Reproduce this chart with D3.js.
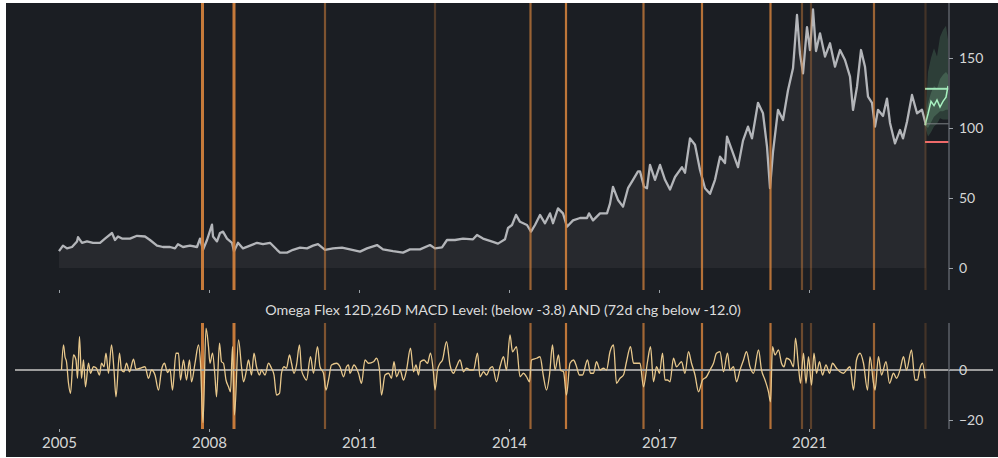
<!DOCTYPE html>
<html lang="en">
<head>
<meta charset="utf-8">
<title>Omega Flex MACD</title>
<script src="https://cdn.jsdelivr.net/npm/d3@7"></script>
<style>
  body { margin: 0; background: #fff; }
  text { font-family: Lato, "Noto Sans", sans-serif; }
</style>
</head>
<body>
<script>
const W = 998, H = 458

// weekly index (0 = start of 2005) and price
const price = [
  [0,12],[0.8,16],[1.6,14],[2.6,15],[3.6,19],[3.8,22],[4.6,18],[5.6,19],[6.8,18],[8.2,18],
  [9.2,21],[10.6,25],[11.2,20],[11.8,22.5],[12.6,21],[14.2,21],[15.6,23],[17.2,22.5],[18.2,20],[19.6,16],
  [20.8,15],[22.2,15],[23.2,14],[23.8,17],[24.8,15],[26.2,16],[27.6,15],[28.2,21],[28.8,13],[29.6,20],
  [30.6,31],[30.8,22.5],[31.6,19],[32.2,25],[32.8,26],[33.6,21],[34.6,18],[35,12],[35.8,18],[36.8,14],
  [38.2,16],[39.6,18],[40.8,17],[42.2,18],[43.6,13],[44.2,11],[45.6,11],[46.8,13],[48.2,14.5],[49.6,14],
  [50.8,16],[51.8,17],[53.2,13],[54.8,14],[56.6,14.5],[58.2,13.3],[60.2,11.7],[61.6,14],[63.6,16.4],[64.8,13.3],
  [66.8,12],[68.8,11],[70.2,13.3],[72.2,13.3],[74.2,16.4],[75.2,14],[76.6,14.8],[77.6,20],[79.2,20],[80.8,21],
  [82.8,20.5],[83.6,23.6],[84.8,21],[86.8,18.6],[87.8,17.4],[89.2,20.5],[89.8,28.6],[90.6,30.7],[91.4,37.9],[92.2,33],
  [93.6,30.7],[94.4,26],[95.2,30.7],[96.2,37.9],[97.2,31.9],[98.2,39],[98.8,32],[99.8,42.6],[100.8,39],[101.6,29.5],
  [102.8,34],[104.2,35.7],[105.6,35.7],[106,39],[106.8,34],[108.2,39],[109.6,39],[110.2,46],[110.8,58],[111.8,48.6],
  [112.8,43.8],[113.8,57],[114.8,63],[115.8,69],[116.2,69],[117,58],[117.6,57],[118.2,73.6],[119.2,63],[120.2,73.6],
  [121.2,63],[122.2,56],[123.2,65],[124.6,72],[125.2,68],[126.2,92.6],[127.2,88],[128.2,70],[129.2,57],[130.2,53],
  [131.2,63],[132.2,79.5],[133.2,75],[133.6,93.8],[134.8,82],[135.8,72],[136.8,91],[137.8,101],[138.6,92.6],[139.8,118],
  [140.8,110.5],[141.6,86.7],[142.2,57],[142.8,83],[143.8,113],[144.8,105.7],[145.8,127],[146.8,142.6],[147.6,180.7],[148.2,153],
  [148.8,139],[149.6,172],[150.2,155.7],[150.8,184.8],[151.4,155],[152.2,167.6],[153.2,151],[154.2,160.5],[155.2,143.8],[156.2,155.7],
  [157.2,148.6],[158.2,136.7],[158.8,112.9],[159.6,129.5],[160.4,155.7],[161.2,143.8],[161.8,122.4],[162.6,118],[163.2,101],[163.8,113],
  [164.8,108.6],[165.6,121],[166.2,103.6],[167.2,89],[168.2,98.6],[168.8,92.6],[169.6,104.5],[170.6,123.6],[171.6,110.5],[172.6,113],
  [173.4,102]
]

// 12D,26D MACD level
const macd = [
  [0.5,0],[0.9,10],[1.2,5.3],[1.5,3.3],[1.9,-5.3],[2.3,-9.3],[2.9,6],[3.4,4],[3.7,-3.3],[4.1,13.3],
  [4.5,-3.3],[4.9,4],[5.3,-6.7],[5.9,2.7],[6.3,-1.3],[6.9,1.3],[7.5,0.7],[8.1,-2],[8.5,2.7],[9.0,1.3],
  [9.4,6.7],[9.9,-1.3],[10.5,10],[11.0,0],[11.4,-10.7],[12.1,6.7],[12.5,0],[13.0,-0.7],[13.5,2.7],[14.1,-0.7],
  [14.9,4.3],[15.4,0.3],[16.2,0.7],[17.2,1.3],[17.9,-3.3],[18.5,0],[19.2,-2],[19.9,-8],[20.5,0],[21.1,2.7],
  [21.7,-1],[22.2,0.3],[22.7,-8],[23.4,6.7],[23.9,6.7],[24.3,-4],[24.9,4],[25.5,-4],[26.1,4],[26.5,-4.7],
  [27.2,2.7],[27.9,10],[28.3,2.7],[28.8,-21],[29.4,16.7],[29.9,9.3],[30.2,2.7],[30.7,6.7],[31.2,-2.7],[31.5,-10.7],
  [32.1,10.7],[32.5,3.3],[32.9,2.7],[33.4,-4],[33.9,-6.7],[34.3,-8.7],[34.7,9.3],[35.1,-18],[35.9,12],[36.5,1.3],
  [36.9,-4.7],[37.5,0],[37.9,4],[38.5,-2],[39.0,6.7],[39.5,1.3],[40.1,-2],[40.5,0],[41.2,-2],[41.9,2.7],
  [42.5,0.7],[43.0,-2],[43.5,-10],[44.1,-9.3],[44.5,-1.3],[45.0,1.3],[45.5,0.7],[46.1,6],[46.5,2.7],[47.0,-1.3],
  [47.5,2],[48.1,10],[48.5,0],[49.0,-2.7],[49.5,-4],[50.3,5.3],[50.9,-1.3],[51.7,9.3],[52.2,1.3],[52.9,-1.3],
  [53.4,-8],[53.9,-4],[54.5,2],[55.5,2.7],[56.2,1.3],[56.9,-2.7],[57.5,1.3],[57.9,2],[58.2,-1.3],[59.0,2],
  [59.9,-1.3],[60.5,-5.3],[61.2,4],[61.9,2.7],[62.9,3.3],[63.5,4.7],[64.1,0],[64.5,-10],[65.2,-2],[65.9,-1.3],
  [66.5,-3.3],[67.0,3.3],[67.5,-2.7],[68.2,0],[68.9,-4],[69.5,0],[70.3,8.7],[70.9,-0.7],[71.4,2],[71.9,-2],
  [72.3,3.3],[73.0,4],[73.7,2.7],[74.3,6.7],[74.9,-1.3],[75.2,-8],[75.7,0],[76.2,2.7],[76.7,4],[77.5,11.3],
  [78.2,2],[78.9,-1.3],[79.5,1.3],[80.2,4],[80.9,-0.7],[81.5,0.7],[82.2,0],[82.9,0],[83.7,6.7],[84.2,-2.7],
  [84.9,-0.7],[85.5,-2],[86.2,0.7],[86.7,1.3],[87.5,-4.7],[88.2,1.3],[88.9,5.3],[89.5,0],[90.2,14],[90.7,7.3],
  [91.5,9.3],[92.2,-2.7],[92.9,-1.3],[93.5,-2.7],[94.1,-4.7],[94.5,4],[95.5,4.7],[96.2,5.3],[96.9,-2.7],[97.5,-8],
  [98.1,-2],[98.7,10],[99.2,0],[99.9,6],[100.3,0],[100.9,-0.7],[101.5,-10],[102.2,2.7],[102.9,4],[103.4,2],
  [104.1,-2],[104.7,-2],[105.7,4],[106.3,-1.3],[106.9,-1.3],[107.5,3.3],[108.2,0],[108.9,0.7],[109.5,0],[110.2,7.3],
  [110.9,10],[111.5,-5.3],[112.2,-3.3],[112.9,-2],[113.5,3.3],[114.3,9.3],[114.9,2.7],[116.2,2.7],[116.9,-6.7],[117.7,3.3],
  [118.3,9.3],[118.9,-4.7],[119.5,1.3],[120.1,-1.3],[120.7,6.7],[121.2,-4],[121.7,-4],[122.2,-4.7],[122.9,4.7],[123.5,1.3],
  [124.5,3.3],[125.2,-1.3],[125.9,7.3],[126.5,2.7],[127.2,-2],[127.9,-8.7],[128.7,-4],[129.5,-2.7],[130.2,0],[130.9,2.7],
  [131.5,6.7],[132.2,7.3],[132.9,-0.7],[133.7,6.7],[134.2,0],[134.9,1.3],[135.5,-4.7],[136.2,0],[136.9,4],[137.5,7.3],
  [138.2,1.3],[138.9,-1.3],[139.9,8],[140.5,0],[141.2,-4],[141.9,-8.7],[142.3,-12.7],[142.7,9.3],[143.2,6],[143.9,8],
  [144.5,2.7],[145.0,1.3],[145.5,4.7],[146.2,4],[146.9,1.3],[147.3,12.7],[147.9,1.3],[148.3,-5.3],[148.9,6.7],[149.4,-5.3],
  [149.9,5.3],[150.5,-6],[151.0,6.7],[151.5,-1.3],[152.1,3.3],[152.7,-2],[153.4,2],[154.1,-1.3],[154.7,2.7],[155.5,0.7],
  [156.2,-0.7],[156.9,-1.3],[157.5,0],[158.2,1.3],[158.9,-8],[159.5,4],[160.2,6.7],[160.9,2.7],[161.7,-8],[162.2,5.3],
  [162.9,-5.3],[163.2,-8],[163.9,5.3],[164.5,-2],[165.4,3.3],[166.1,-5.3],[166.9,-1.3],[167.5,-3.3],[168.2,0],[168.9,5.3],
  [169.5,0],[170.5,8],[171.2,-4],[171.7,-4],[172.1,0],[172.7,2.7],[173.2,-3.3]
]

// signal dates (weekly index) and how strong each signal was
const signals = [28.7, 35, 53.2, 75.2, 94.3, 101.4, 116.9, 128.6, 142.3, 148.6, 150.4, 163, 173.3]
const signalStrength = [0.95, 0.95, 0.55, 0.3, 0.7, 0.9, 0.75, 0.85, 0.85, 0.45, 0.35, 0.7, 0.22]

// forecast fan after last close
const fcT = [173.2, 173.8, 174.4, 175.0, 175.6, 176.2, 176.8, 177.4, 177.8]
const fcHi = [103, 140, 150, 157, 151, 165, 170, 173, 163]
const fcLo = [101, 94, 97, 101, 103, 107, 106, 106, 106]
const fcInHi = [103, 118, 125, 130, 128, 135, 138, 140, 138]
const fcInLo = [102, 100, 104, 108, 110, 112, 112, 113, 113]
const fcMid = [102, 110, 119, 116, 120, 115, 119, 122, 130]
const targetUp = 128, targetDown = 90, lastClose = 103

const yearTicks = [0, 30, 60, 90, 120, 150]
const yearLabels = ["2005", "2008", "2011", "2014", "2017", "2021"]
const priceTicks = [0, 50, 100, 150]
const macdTicks = [0, -20]
const title = "Omega Flex 12D,26D MACD Level: (below -3.8) AND (72d chg below -12.0)"

const svg = d3.select("body").append("svg")
  .attr("width", W).attr("height", H)

svg.append("rect")
  .attr("x", 6).attr("y", 3).attr("width", W - 6).attr("height", H - 4)
  .attr("fill", "#1b1e23")

const x = d3.scaleLinear().domain([0, 178]).range([59, 949])
const yP = d3.scaleLinear().domain([0, 150]).range([268, 58])
const yM = d3.scaleLinear().domain([0, -20]).range([370, 420])

const topY0 = 3, topY1 = 290, botY0 = 323, botY1 = 429
const axisX = x(178)

// ---- price panel ----
svg.append("path")
  .datum(price)
  .attr("fill", "#27292e")
  .attr("d", d3.area().x(d => x(d[0])).y0(yP(0)).y1(d => yP(d[1])))

svg.append("path")
  .datum(price)
  .attr("fill", "none")
  .attr("stroke", "#b3b5b9")
  .attr("stroke-width", 2.3)
  .attr("stroke-linejoin", "round")
  .attr("d", d3.line().x(d => x(d[0])).y(d => yP(d[1])))

// forecast fan
const fc = fcT.map((t, i) => ({ t, hi: fcHi[i], lo: fcLo[i], ih: fcInHi[i], il: fcInLo[i], m: fcMid[i] }))
svg.append("path").datum(fc)
  .attr("fill", "#4f7a60").attr("fill-opacity", 0.35)
  .attr("d", d3.area().x(d => x(d.t)).y0(d => yP(d.lo)).y1(d => yP(d.hi)))
svg.append("path").datum(fc)
  .attr("fill", "#6a9c7c").attr("fill-opacity", 0.35)
  .attr("d", d3.area().x(d => x(d.t)).y0(d => yP(d.il)).y1(d => yP(d.ih)))

const hline = (v, color, w) => svg.append("line")
  .attr("x1", x(fcT[0])).attr("x2", axisX)
  .attr("y1", yP(v)).attr("y2", yP(v))
  .attr("stroke", color).attr("stroke-width", w)
hline(lastClose, "#7d8185", 1)
hline(targetUp, "#9fe6b8", 2)
hline(targetDown, "#ee6a6a", 2)

svg.append("path").datum(fc)
  .attr("fill", "none").attr("stroke", "#a8f0c0").attr("stroke-width", 1.5)
  .attr("d", d3.line().x(d => x(d.t)).y(d => yP(d.m)))

// ---- signal lines (both panels) ----
const sig = signals.map((t, i) => ({ t, s: signalStrength[i] }))
;[[topY0, topY1], [botY0, botY1]].forEach(([a, b]) => {
  svg.append("g").selectAll("line").data(sig).join("line")
    .attr("x1", d => x(d.t)).attr("x2", d => x(d.t))
    .attr("y1", a).attr("y2", b)
    .attr("stroke", "#d0803c")
    .attr("stroke-opacity", d => d.s)
    .attr("stroke-width", d => d.s > 0.9 ? 3 : 2.2)
})

// price axis
const pAxis = svg.append("g")
  .attr("transform", `translate(${axisX},0)`)
  .call(d3.axisRight(yP).tickValues(priceTicks).tickSize(4).tickPadding(6))
pAxis.select(".domain").attr("d", `M0,${topY0}V${topY1}`)

// x ticks under price panel
const xTop = svg.append("g")
  .attr("transform", `translate(0,${topY1})`)
  .call(d3.axisBottom(x).tickValues(yearTicks).tickSize(3).tickFormat(""))
xTop.select(".domain").remove()

// ---- MACD panel ----
svg.append("line")
  .attr("x1", 15).attr("x2", 993)
  .attr("y1", yM(0)).attr("y2", yM(0))
  .attr("stroke", "#9c9c9c").attr("stroke-width", 2)

svg.append("path")
  .datum(macd)
  .attr("fill", "none")
  .attr("stroke", "#e8c88c")
  .attr("stroke-width", 1.3)
  .attr("stroke-linejoin", "round")
  .attr("d", d3.line().curve(d3.curveMonotoneX).x(d => x(d[0])).y(d => yM(d[1])))

const mAxis = svg.append("g")
  .attr("transform", `translate(${axisX},0)`)
  .call(d3.axisRight(yM).tickValues(macdTicks).tickSize(4).tickPadding(6))
mAxis.select(".domain").attr("d", `M0,${botY0}V${botY1}`)

const xBot = svg.append("g")
  .attr("transform", `translate(0,${botY1})`)
  .call(d3.axisBottom(x).tickValues(yearTicks).tickSize(3).tickPadding(5)
    .tickFormat((d, i) => yearLabels[i]))
xBot.select(".domain").remove()

svg.append("text")
  .attr("x", 503).attr("y", 315)
  .attr("text-anchor", "middle")
  .attr("fill", "#dcdcdc")
  .attr("font-size", 14.3)
  .text(title)

// axis styling
svg.selectAll(".tick line").attr("stroke", "#9aa0a6")
svg.selectAll(".tick text").attr("fill", "#d6d6d6").attr("font-size", 14)
svg.selectAll(".domain").attr("stroke", "#5c6168").attr("stroke-width", 1.5)
xBot.selectAll(".tick text").attr("font-size", 15)
</script>
</body>
</html>
